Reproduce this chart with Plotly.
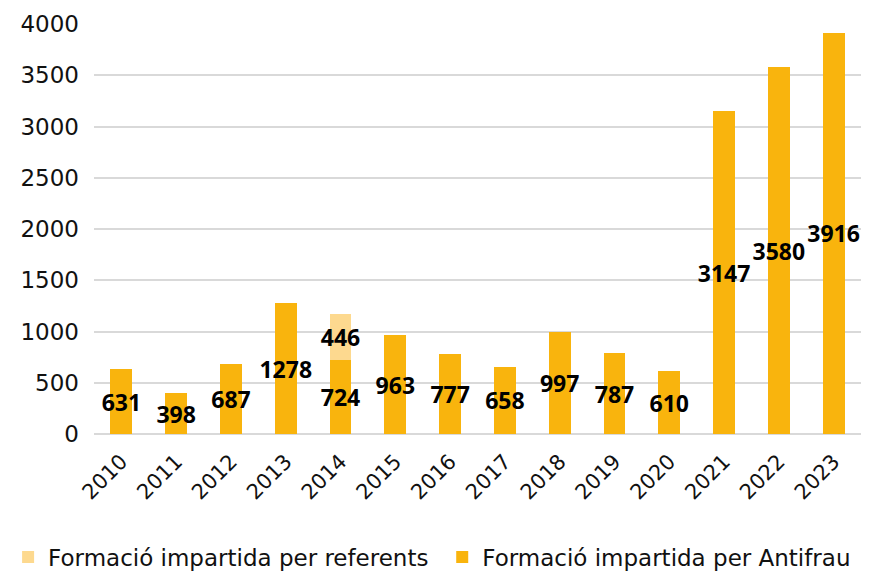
import plotly.graph_objects as go

years = ["2010", "2011", "2012", "2013", "2014", "2015", "2016", "2017", "2018", "2019", "2020", "2021", "2022", "2023"]
antifrau = [631, 398, 687, 1278, 724, 963, 777, 658, 997, 787, 610, 3147, 3580, 3916]
referents = [None, None, None, None, 446, None, None, None, None, None, None, None, None, None]

FONT = "DejaVu Sans"
LABEL_FONT = dict(family="Open Sans", size=23, color="black", weight="bold")

fig = go.Figure()
fig.add_trace(go.Bar(
    x=years, y=antifrau, name="Formació impartida per Antifrau",
    marker=dict(color="#F9B40D", line=dict(width=0)),
    texttemplate="%{y}", textposition="inside",
    insidetextanchor="middle", constraintext="none", textangle=0,
    insidetextfont=LABEL_FONT, cliponaxis=False, legend="legend2",
))
fig.add_trace(go.Bar(
    x=years, y=referents, name="Formació impartida per referents",
    marker=dict(color="#FDD98F", line=dict(width=0)),
    texttemplate="%{y}", textposition="inside",
    insidetextanchor="middle", constraintext="none", textangle=0,
    insidetextfont=LABEL_FONT, cliponaxis=False, legend="legend",
))
leg = dict(orientation="h", xanchor="left", y=-0.30, yanchor="middle",
           font=dict(size=23), itemwidth=30, bgcolor="rgba(0,0,0,0)")
fig.update_layout(
    barmode="stack", bargap=0.6,
    width=870, height=573,
    margin=dict(l=94, r=9, t=24, b=139, autoexpand=False),
    paper_bgcolor="white", plot_bgcolor="white",
    font=dict(family=FONT, size=21, color="#111111"),
    showlegend=True,
    legend=dict(leg, x=-0.112),
    legend2=dict(leg, x=0.454),
)
fig.update_xaxes(tickangle=-45, showline=False, ticks="", tickfont=dict(size=21),
                 ticklabelstandoff=10, automargin=False)
fig.update_yaxes(range=[0, 4000], dtick=500, showgrid=True, gridcolor="#D9D9D9",
                 gridwidth=1.5, zeroline=True, zerolinecolor="#D9D9D9", zerolinewidth=1.5,
                 ticks="", tickfont=dict(size=23), ticklabelstandoff=14, automargin=False)
fig.write_html("out.html", config={"displayModeBar": False},
               post_script="document.body.style.margin='0';document.body.style.overflow='hidden';")
